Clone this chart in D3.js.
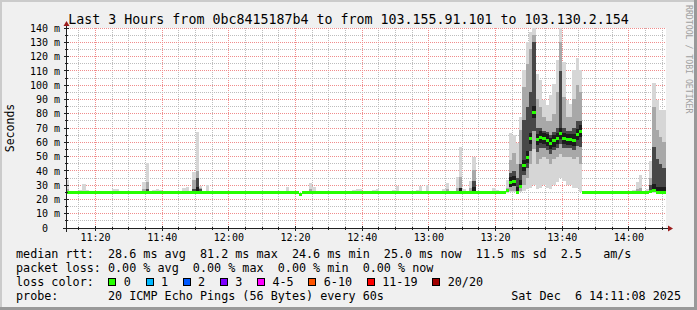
<!DOCTYPE html>
<html>
<head>
<meta charset="utf-8">
<script src="https://cdn.jsdelivr.net/npm/d3@7"></script>
<style>
  body { margin: 0; background: #f0f0f0; }
  svg { display: block; }
  text { font-family: "DejaVu Sans Mono", monospace; white-space: pre; }
</style>
</head>
<body>
<div id="chart"></div>
<script>
var width = 697;
var height = 310;

// median rtt per minute step (ms), 11:11 .. 14:10
var medianRtt = [
  24.7,24.7,24.7,24.7,24.7,24.7,24.7,24.7,24.7,24.7,24.7,24.7,24.7,24.7,24.7,24.7,24.7,24.7,24.7,24.7,
  24.7,24.7,24.7,24.7,24.7,24.7,24.7,24.7,24.7,24.7,24.7,24.7,24.7,24.7,24.7,24.7,24.7,24.7,24.7,24.7,
  24.7,24.7,24.7,24.7,24.7,24.7,24.7,24.7,24.7,24.7,24.7,24.7,24.7,24.7,24.7,24.7,24.7,24.7,24.7,24.7,
  24.7,24.7,24.7,24.7,24.7,24.7,24.7,24.7,24.7,24.7,23.8,24.7,24.7,24.7,24.7,24.7,24.7,24.7,24.7,24.7,
  24.7,24.7,24.7,24.7,24.7,24.7,24.7,24.7,24.7,24.7,24.7,24.7,24.7,24.7,24.7,24.7,24.7,24.7,24.7,24.7,
  24.7,24.7,24.7,24.7,24.7,24.7,24.7,24.7,24.7,24.7,24.7,24.7,24.7,24.7,24.7,24.7,24.7,24.7,24.7,24.7,
  24.7,24.7,24.7,24.7,24.7,24.7,24.7,24.7,24.7,24.7,24.7,24.7,26.1,31.7,32.4,25.0,29.4,43.6,49.7,62.5,
  81.2,62.0,63.7,62.5,61.6,59.0,61.0,62.7,66.3,62.7,62.0,62.0,61.6,65.5,67.9,24.7,24.7,24.7,24.7,24.7,
  24.7,24.7,24.7,24.7,24.7,24.7,24.7,24.7,24.7,24.7,24.7,24.7,24.7,24.7,24.7,25.5,26.6,24.7,24.7,25.0
];

// smoke per step: [step, min, low, high, darkTop, max]  (null = at median)
var smokeRows = [
  [0, 24.6, null, 27, null, 33.6], [4, 24.6, null, null, null, 26.6], [5, 24.6, null, null, null, 31],
  [6, 24.6, null, null, null, 26.6], [7, 24.6, null, null, null, 26], [14, 24.6, null, null, null, 27.3],
  [15, 24.6, null, null, null, 27], [17, 24.6, null, null, null, 26], [23, 24.6, null, 27, null, 32.4],
  [24, 24.6, null, 32, 27, 45.7], [26, 24.6, null, null, null, 26.6], [27, 24.6, null, null, null, 27.3],
  [28, 24.6, null, null, null, 26.6], [33, 24.6, null, null, null, 25.8], [35, 24.6, null, null, null, 28],
  [36, 24.6, null, null, null, 29], [37, 24.6, null, null, null, 26], [38, 24.6, null, 33.6, 27, 39.4],
  [39, 24.6, null, 40, 35, 67], [40, 24.6, null, 28, 27, 29.4], [41, 24.6, null, null, null, 26],
  [42, 24.6, null, null, null, 30], [46, 24.6, null, null, null, 26], [47, 24.6, null, null, null, 26],
  [48, 24.6, null, null, null, 26], [49, 24.6, null, null, null, 26], [65, 24.6, null, null, null, 25.8],
  [66, 24.6, null, null, null, 29], [71, 24.6, null, null, null, 26], [72, 24.6, null, null, null, 26],
  [73, 24.6, null, 27, null, 31.7], [74, 24.6, null, null, null, 29], [86, 24.6, null, null, null, 26.5],
  [87, 24.6, null, null, null, 27.3], [88, 24.6, null, null, null, 27.3], [92, 24.6, null, null, null, 26.3],
  [93, 24.6, null, null, null, 27.3], [95, 24.6, null, 26, 26, 26], [96, 24.6, null, null, null, 26],
  [97, 24.6, null, null, null, 26], [98, 24.6, null, null, null, 26.5], [99, 24.6, null, null, null, 29.4],
  [105, 24.6, null, null, null, 26.3], [106, 24.6, null, null, null, 29.4], [107, 24.6, null, null, null, 26],
  [108, 24.6, null, null, null, 30], [113, 24.6, null, null, null, 27], [114, 24.6, null, 27, null, 31.3],
  [117, 24.6, null, 28, null, 35.5], [118, 24.6, null, 35.5, 28, 57], [119, 24.6, null, null, null, 27],
  [121, 24.6, null, 28, null, 33], [122, 24.6, null, 40.6, 33, 50], [128, 24.6, null, null, null, 28],
  [129, 24.6, null, null, null, 26.5], [130, 24.6, null, null, null, 26]
];

var eventRows = [
  [132, 24.6, 25, 28, 27, 33.6], [133, 25, 26, 47.6, 38.5, 66.3], [134, 25, 26, 52.5, 40, 65],
  [135, 24.6, 24.8, 45, 35, 59.5], [136, 25, 26, 68.6, 45, 78], [137, 26, 30, 99, 75.6, 110.6],
  [138, 27, 35, 115, 85, 130], [139, 28, 45, 125, 95, 137.4], [140, 30, 55, 135, 130, 140],
  [141, 27, 45, 90, 70, 108], [142, 28, 48, 85, 70, 103.6], [143, 30, 50, 78, 68, 89.6],
  [144, 28, 48, 75, 67, 86], [145, 27, 45, 75, 65, 93], [146, 30, 48, 80, 67, 101],
  [147, 32, 50, 95, 70, 117.6], [148, 35, 52, 130, 110, 140], [149, 33, 50, 92, 70, 116],
  [150, 30, 50, 78, 68, 89.6], [151, 30, 50, 78, 68, 87], [152, 28, 48, 90, 70, 110.6],
  [153, 28, 50, 100, 75, 118.8], [154, 25, 45, 95, 75, 110.6]
];

var lateRows = [
  [170, 24.6, null, null, null, 26.6], [171, 24.6, null, 27, null, 32.4], [172, 24.6, null, 28, null, 37.1],
  [173, 24.6, null, null, null, 26], [174, 24.6, null, null, null, 27], [175, 24.6, 25, 35, 30, 47],
  [176, 24.6, 25, 85, 57, 101.7], [177, 24.6, 25, 68.6, 48, 89.6], [178, 24.6, 25, 64, 45, 82.6],
  [179, 24.6, 25, 60, 42, 82.6]
];

var yTicks = [0, 10, 20, 30, 40, 50, 60, 70, 80, 90, 100, 110, 120, 130, 140];
var lossLabels = ["0", "1", "2", "3", "4-5", "6-10", "11-19", "20/20"];
var lossColors = ["#26ff00", "#00b8ff", "#0059ff", "#7e00ff", "#ff00ff", "#ff5500", "#ff0000", "#a10000"];
var rttStats = ["28.6 ms avg", "81.2 ms max", "24.6 ms min", "25.0 ms now", "11.5 ms sd", "2.5   am/s"];
var lossStats = ["0.00 % avg", "0.00 % max", "0.00 % min", "0.00 % now"];
var probeText = "20 ICMP Echo Pings (56 Bytes) every 60s";
var dateText = "Sat Dec  6 14:11:08 2025";
var titleText = "Last 3 Hours from 0bc8415187b4 to from 103.155.91.101 to 103.130.2.154";

var startTime = new Date(2025, 11, 6, 11, 11, 8);
var endTime = new Date(2025, 11, 6, 14, 11, 8);
var firstStep = new Date(2025, 11, 6, 11, 11, 0);

var plot = {x0: 66, x1: 666, y0: 28, y1: 228};
var x = d3.scaleTime().domain([startTime, endTime]).range([plot.x0, plot.x1]);
var y = d3.scaleLinear().domain([0, 140]).range([plot.y1, plot.y0]);
var crisp = function(v){ return Math.floor(v) + 0.5; };

var svg = d3.select("#chart").append("svg")
  .attr("width", width)
  .attr("height", height);

// background with 3d frame
svg.append("rect").attr("width", width).attr("height", height).attr("fill", "#f0f0f0");
svg.append("rect").attr("width", width).attr("height", 2).attr("fill", "#cbcbcb");
svg.append("rect").attr("width", 2).attr("height", height).attr("fill", "#cbcbcb");
svg.append("rect").attr("x", width - 3).attr("width", 3).attr("height", height).attr("fill", "#999999");
svg.append("rect").attr("y", height - 3).attr("width", width).attr("height", 3).attr("fill", "#999999");

// canvas
svg.append("rect")
  .attr("x", plot.x0).attr("y", plot.y0)
  .attr("width", plot.x1 - plot.x0).attr("height", plot.y1 - plot.y0)
  .attr("fill", "#ffffff");

svg.append("clipPath").attr("id", "plotclip").append("rect")
  .attr("x", plot.x0).attr("y", plot.y0 - 1)
  .attr("width", plot.x1 - plot.x0).attr("height", plot.y1 - plot.y0 + 1);

// grid
var grid = svg.append("g").attr("shape-rendering", "crispEdges").attr("stroke-dasharray", "1,1");
var gridTimes = d3.timeMinute.every(5).range(startTime, endTime);
var isMajorTime = function(t){ return t.getMinutes() % 20 === 0; };
grid.selectAll("line.v")
  .data(gridTimes)
  .enter().append("line")
  .attr("x1", function(t){ return crisp(x(t)); })
  .attr("x2", function(t){ return crisp(x(t)); })
  .attr("y1", plot.y0).attr("y2", plot.y1)
  .attr("stroke", function(t){ return isMajorTime(t) ? "#f08c8c" : "#bdbdbd"; });

var gridVals = d3.range(5, 141, 5);
grid.selectAll("line.h")
  .data(gridVals)
  .enter().append("line")
  .attr("x1", plot.x0).attr("x2", plot.x1)
  .attr("y1", function(v){ return crisp(y(v)); })
  .attr("y2", function(v){ return crisp(y(v)); })
  .attr("stroke", function(v){ return v % 10 === 0 ? "#f08c8c" : "#bdbdbd"; });

// smoke
var stepX = function(j){
  var v = x(d3.timeMinute.offset(firstStep, j));
  return Math.max(plot.x0, Math.min(plot.x1, v));
};

var smoke = smokeRows.concat(eventRows, lateRows).map(function(r){
  var med = medianRtt[r[0]];
  var d = {
    step: r[0], med: med, min: r[1],
    low: r[2] == null ? med : r[2],
    high: r[3] == null ? med : r[3],
    dark: r[4] == null ? med : r[4],
    max: r[5]
  };
  d.darkLow = Math.min(med, (d.low + med) / 2);
  return d;
});

var smokeG = svg.append("g").attr("clip-path", "url(#plotclip)").attr("shape-rendering", "crispEdges");

var band = function(cls, color, lo, hi, keep){
  smokeG.selectAll("rect." + cls)
    .data(smoke.filter(keep))
    .enter().append("rect")
    .attr("class", cls)
    .attr("x", function(d){ return stepX(d.step); })
    .attr("width", function(d){ return stepX(d.step + 1) - stepX(d.step); })
    .attr("y", function(d){ return y(hi(d)); })
    .attr("height", function(d){ return Math.max(0, y(lo(d)) - y(hi(d))); })
    .attr("fill", color);
};

band("light", "#d6d6d6", function(d){ return d.min; }, function(d){ return d.max; }, function(d){ return true; });
band("mid", "#a8a8a8", function(d){ return d.low; }, function(d){ return d.high; }, function(d){ return d.high > d.low; });
band("dark", "#474747", function(d){ return d.darkLow; }, function(d){ return d.dark; }, function(d){ return d.dark > d.med; });
band("core", "#1c1c1c",
  function(d){ return Math.max(d.darkLow, d.med - 4); },
  function(d){ return Math.min(d.dark, d.med + 4); },
  function(d){ return d.high - d.med > 10; });

// median rtt, coloured by loss (all 0 loss here)
smokeG.selectAll("rect.median")
  .data(medianRtt)
  .enter().append("rect")
  .attr("class", "median")
  .attr("x", function(d, i){ return stepX(i); })
  .attr("width", function(d, i){ return stepX(i + 1) - stepX(i); })
  .attr("y", function(d){ return y(d) - 1.5; })
  .attr("height", 3)
  .attr("fill", lossColors[0]);

// axes
var axis = svg.append("g").attr("shape-rendering", "crispEdges").attr("stroke", "#202020");
axis.append("line").attr("x1", 63).attr("x2", plot.x1 + 3).attr("y1", crisp(plot.y1)).attr("y2", crisp(plot.y1));
axis.append("line").attr("x1", crisp(plot.x0)).attr("x2", crisp(plot.x0)).attr("y1", plot.y0 - 3).attr("y2", plot.y1 + 4);
axis.selectAll("line.xt")
  .data(gridTimes)
  .enter().append("line")
  .attr("x1", function(t){ return crisp(x(t)); })
  .attr("x2", function(t){ return crisp(x(t)); })
  .attr("y1", function(t){ return plot.y1 - (isMajorTime(t) ? 2 : 1); })
  .attr("y2", function(t){ return plot.y1 + (isMajorTime(t) ? 3 : 2); });
axis.selectAll("line.yt")
  .data(gridVals)
  .enter().append("line")
  .attr("y1", function(v){ return crisp(y(v)); })
  .attr("y2", function(v){ return crisp(y(v)); })
  .attr("x1", function(v){ return plot.x0 - (v % 10 === 0 ? 2 : 1); })
  .attr("x2", function(v){ return plot.x0 + (v % 10 === 0 ? 3 : 2); });

// arrows
svg.append("path")
  .attr("d", d3.line()([[plot.x0 - 2.5, plot.y0 - 2], [plot.x0 + 0.5, plot.y0 - 7], [plot.x0 + 3.5, plot.y0 - 2]]) + "Z")
  .attr("fill", "#9b1c1c");
svg.append("path")
  .attr("d", d3.line()([[plot.x1 + 2, plot.y1 - 2.5], [plot.x1 + 7, plot.y1 + 0.5], [plot.x1 + 2, plot.y1 + 3.5]]) + "Z")
  .attr("fill", "#9b1c1c");

// tick labels
svg.append("g").selectAll("text")
  .data(yTicks)
  .enter().append("text")
  .attr("x", 60)
  .attr("y", function(v){ return y(v) + 3.7; })
  .attr("text-anchor", "end")
  .attr("xml:space", "preserve")
  .attr("font-size", "10px")
  .attr("fill", "#000")
  .text(function(v){ return v === 0 ? "0  " : v + " m"; });

var fmt = d3.timeFormat("%H:%M");
svg.append("g").selectAll("text")
  .data(gridTimes.filter(isMajorTime))
  .enter().append("text")
  .attr("x", function(t){ return x(t); })
  .attr("y", 240.6)
  .attr("text-anchor", "middle")
  .attr("font-size", "10px")
  .attr("fill", "#000")
  .text(fmt);

// title, unit, watermark
svg.append("text")
  .attr("x", width / 2).attr("y", 24)
  .attr("text-anchor", "middle")
  .attr("font-size", "13.3px")
  .text(titleText);

svg.append("text")
  .attr("transform", "translate(14," + ((plot.y0 + plot.y1) / 2) + ") rotate(-90)")
  .attr("text-anchor", "middle")
  .attr("font-size", "11.5px")
  .text("Seconds");

svg.append("text")
  .attr("transform", "translate(686,5) rotate(90)")
  .attr("font-size", "8.2px")
  .attr("fill", "#a0a0a0")
  .text("RRDTOOL / TOBI OETIKER");

// legend
var legendX = 16;
var legendSize = "11.75px";
var legend = svg.append("g").attr("font-size", legendSize);
var legendLine = function(str, yy){
  return legend.append("text")
    .attr("x", legendX).attr("y", yy)
    .attr("xml:space", "preserve")
    .text(str);
};
legendLine("median rtt:  " + rttStats.join("  "), 257.5);
legendLine("packet loss: " + lossStats.join("  "), 271.5);
var lossHead = legendLine("loss color:  ", 285.5);
legendLine("probe:       " + probeText, 299.5);
legend.append("text")
  .attr("x", 681).attr("y", 299.5)
  .attr("text-anchor", "end")
  .attr("xml:space", "preserve")
  .text(dateText);

var charW = lossHead.node().getComputedTextLength() / 13;
var bx = legendX + 13 * charW + 0.5;
lossLabels.forEach(function(lbl, i){
  legend.append("rect")
    .attr("x", Math.round(bx) + 0.5).attr("y", 278.5)
    .attr("width", 7).attr("height", 7)
    .attr("fill", lossColors[i])
    .attr("stroke", "#000")
    .attr("stroke-width", 1);
  legend.append("text")
    .attr("x", bx + 15.3).attr("y", 285.5)
    .text(lbl);
  bx = bx + 15.3 + lbl.length * charW + 14.8;
});
</script>
</body>
</html>
